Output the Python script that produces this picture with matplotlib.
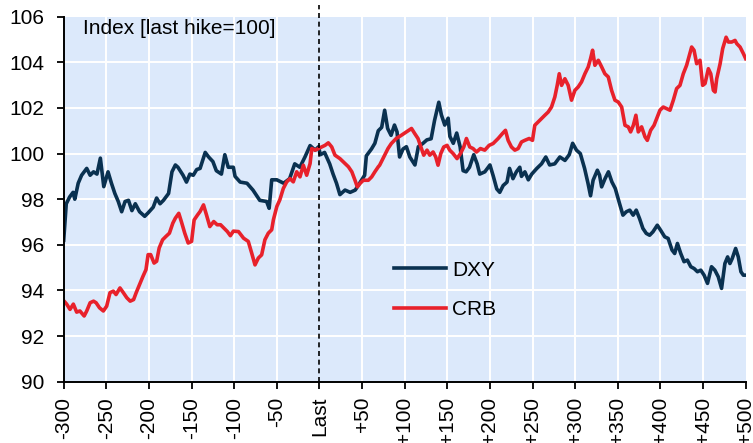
import matplotlib
matplotlib.use('Agg')
import matplotlib.pyplot as plt

plt.rcParams['font.family'] = ['Liberation Sans', 'DejaVu Sans']

# Days relative to last hike, and index values (last hike = 100)
dxy_day = [-300, -297, -293, -289, -287, -283, -279, -273, -269, -265, -261, -257, -253, -248,
           -244, -240, -236, -232, -228, -224, -220, -216, -211, -205, -201, -195, -191, -187,
           -183, -177, -173, -169, -166, -160, -156, -152, -148, -144, -140, -134, -130, -125,
           -121, -115, -111, -107, -101, -99, -93, -85, -78, -70, -62, -59, -56, -50, -42, -35,
           -29, -23, -17, -11, -5, -1, 1, 6, 12, 16, 20, 24, 30, 36, 42, 48, 53, 55, 61, 65,
           69, 73, 76.5, 80, 84, 88, 91, 94, 98, 102, 106, 112, 116, 121.5, 126, 131, 135, 140,
           143, 147, 151, 153, 157, 161, 165, 168.5, 172, 176, 181, 185, 188, 194, 200, 204,
           208, 211.5, 215.5, 220, 223, 227, 231, 235, 237, 241, 245, 249, 255, 260.5, 265.5,
           270, 276, 282, 288, 293, 297, 301.5, 306, 311, 315, 318, 321, 326, 328.6, 331, 335,
           339, 343, 347, 352, 356, 360, 364, 368, 371.6, 375.5, 379.4, 383.4, 387.3, 391.2,
           396.3, 400.2, 405, 409, 413.6, 416.7, 419.9, 423.8, 427.7, 431.6, 435.6, 439.5,
           443.4, 447.3, 451.2, 455.2, 459.9, 463.8, 467.8, 471.7, 475.6, 478.8, 481.5, 484.2,
           488.2, 491.3, 494.4, 497.2, 500]
dxy_value = [96.2, 97.8, 98.1, 98.3, 98.0, 98.7, 99.05, 99.35, 99.05, 99.2, 99.1, 99.8, 98.55, 99.2,
             98.7, 98.25, 97.9, 97.45, 97.9, 97.95, 97.5, 97.8, 97.45, 97.25, 97.4, 97.65, 98.05, 97.8,
             97.95, 98.25, 99.2, 99.5, 99.4, 99.05, 98.75, 99.1, 99.05, 99.3, 99.35, 100.05, 99.85, 99.65,
             99.25, 99.1, 99.95, 99.4, 99.4, 99.0, 98.75, 98.7, 98.4, 97.95, 97.9, 97.6, 98.85, 98.85, 98.7, 98.9,
             99.55, 99.4, 99.85, 100.35, 100.15, 100.3, 99.95, 100.05, 99.55, 99.1, 98.7, 98.2, 98.4, 98.3, 98.4, 98.75, 99.05, 99.9, 100.2, 100.45,
             101.0, 101.15, 101.9, 101.1, 100.8, 101.25, 100.95, 99.85, 100.2, 100.3, 99.85, 99.5, 100.3, 100.45, 100.6, 100.65, 101.45, 102.25,
             101.7, 101.25, 101.55, 100.75, 100.45, 100.9, 100.3, 99.25, 99.2, 99.4, 99.95, 99.55, 99.1, 99.2, 99.5, 99.0,
             98.45, 98.3, 98.6, 98.75, 99.35, 98.9, 99.2, 99.4, 99.0, 99.2, 98.85, 99.1, 99.35, 99.55, 99.85,
             99.5, 99.55, 99.85, 99.7, 99.95, 100.45, 100.15, 100.0, 99.35, 98.7, 98.15, 98.83, 99.27, 99.05, 98.54, 98.9,
             99.2, 98.76, 98.47, 97.81, 97.3, 97.45, 97.52, 97.3, 97.52, 97.15, 96.72, 96.5, 96.42, 96.57,
             96.86, 96.64, 96.35, 96.28, 95.77, 95.62, 96.06, 95.62, 95.26, 95.33, 95.04, 94.96,
             94.82, 94.89, 94.67, 94.31, 95.04, 94.89, 94.6, 94.09, 95.18, 95.47, 95.18, 95.4,
             95.84, 95.47, 94.82, 94.67, 94.67]

crb_day = [-300, -296.5, -292.6, -288.7, -284.8, -281, -276, -273, -269, -265, -262, -258, -253.5,
           -249.6, -245.7, -241.8, -238.6, -234, -230, -226, -222, -218, -215, -211, -207, -203.5,
           -201, -198, -194, -191, -188, -184, -180, -176, -172, -169, -165, -162, -158, -154,
           -150, -147, -143, -140, -136, -132.5, -128.6, -124, -120, -116, -112, -108, -104.5,
           -101, -95, -89, -83.5, -79.5, -75.6, -71.7, -67.8, -64, -60, -56, -54, -50, -46.5,
           -42.4, -38.4, -34.5, -30.7, -26.7, -22.8, -18.9, -15, -11, -9, -5, -1.3, 2.6, 6.5,
           10.4, 14.4, 18.2, 24, 30, 34, 38, 41.7, 44.4, 47.6, 51.4, 57.3, 61.3, 65, 69, 70.6,
           76.5, 80.4, 84.3, 90, 96, 102, 108, 111.7, 115.6, 119.6, 122.3, 126.2, 129.4, 133.3,
           136.4, 139.1, 142.3, 145.8, 149.7, 152.8, 156.8, 161.4, 165.4, 169.3, 172.4, 176.3,
           180.2, 184.2, 188.8, 193.9, 199, 203.7, 209.6, 214.7, 218.2, 221.3, 225.2, 229.2,
           233.1, 237, 240.9, 246, 249.9, 252.6, 256.6, 260.5, 264.4, 268.3, 272.2, 276.1,
           278.9, 281.3, 284, 287.9, 291.8, 295.7, 299.6, 303.5, 307.4, 311.4, 315.3, 318,
           320.4, 323.1, 327.1, 331, 334.8, 338.8, 342.7, 346.6, 350.5, 354.5, 358.4, 362.3,
           365, 368.2, 371.2, 374, 377.9, 381.9, 384.6, 388.5, 392.5, 395.5, 399.4, 403.3,
           407.2, 411.2, 415.1, 419, 422.9, 426.8, 430.7, 433.9, 436.6, 439.4, 442.5, 446.4,
           449.5, 452.3, 456.2, 459, 462.1, 464.1, 466, 470, 473, 477, 479.7, 483.6, 487.5,
           489.5, 493.4, 497.3, 500]
crb_value = [93.55, 93.4, 93.17, 93.4, 93.05, 93.1, 92.88, 93.1, 93.46, 93.53, 93.46, 93.24, 93.1,
             93.31, 93.9, 93.97, 93.82, 94.11, 93.9, 93.68, 93.53, 93.6, 93.9, 94.26, 94.62, 94.91,
             95.57, 95.57, 95.2, 95.28, 95.86, 96.22, 96.37, 96.51, 96.95, 97.17, 97.38, 97.02, 96.51, 96.08,
             96.15, 97.09, 97.31, 97.46, 97.75, 97.31, 96.8, 97.02, 96.88, 96.88, 96.73, 96.58, 96.4,
             96.6, 96.58, 96.29, 96.15, 95.64, 95.12, 95.42, 95.56, 96.22, 96.51, 96.66, 97.1, 97.68, 97.97,
             98.47, 98.76, 98.9, 98.76, 99.2, 98.98, 99.49, 99.05, 99.56, 100.22, 100.15, 100.22, 100.29, 100.36,
             100.47, 100.29, 99.93, 99.78, 99.56, 99.42, 99.2, 98.83, 98.54, 98.69, 98.83, 98.83, 98.98, 99.2, 99.42, 99.49,
             99.93, 100.22, 100.44, 100.66, 100.8, 100.95, 101.1, 100.88, 100.66, 100.22, 99.93, 100.15, 99.93, 100.07,
             99.85, 99.49, 100.0, 100.29, 100.36, 100.15, 100.0, 99.78, 100.0, 100.29, 100.66, 100.29,
             100.22, 100.07, 100.22, 100.15, 100.36, 100.44, 100.66, 100.88, 101.02, 100.58, 100.29, 100.15,
             100.22, 100.51, 100.58, 100.66, 100.58, 101.24, 101.39, 101.53, 101.68, 101.82, 102.04, 102.48,
             102.99, 103.5, 102.99, 103.28, 102.99, 102.34, 102.77, 102.92, 103.14, 103.5, 103.8, 104.16,
             104.53, 103.87, 104.09, 103.8, 103.5, 103.36, 102.77, 102.34, 102.26, 102.04, 101.24, 101.17,
             100.95, 101.24, 101.68, 100.95, 101.17, 100.73, 100.58, 101.02, 101.24, 101.53, 101.9, 102.04,
             101.97, 101.9, 102.34, 102.85, 102.99, 103.5, 103.87, 104.31, 104.67, 104.53, 103.94, 104.09,
             102.99, 103.07, 103.72, 103.5, 102.77, 102.7, 103.28, 103.94, 104.6, 105.1, 104.89, 104.89, 104.96,
             104.82, 104.67, 104.38, 104.16]

x_ticks = list(range(-300, 501, 50))
x_labels = [str(t) if t < 0 else ('Last' if t == 0 else f'+{t}') for t in x_ticks]
y_ticks = list(range(90, 107, 2))

fig = plt.figure(figsize=(7.53, 4.43), dpi=100)
ax = fig.add_axes([0.0846, 0.1384, 0.9057, 0.8239])
ax.set_facecolor('#dce9fb')

for t in x_ticks[1:-1]:
    if t != 0:
        ax.axvline(t, color='white', lw=1.4, zorder=1)
for t in y_ticks[1:-1]:
    ax.axhline(t, color='white', lw=1.4, zorder=1)

ax.plot(dxy_day, dxy_value, color='#0a3150', lw=2.6, label='DXY', zorder=3)
ax.plot(crb_day, crb_value, color='#e8212b', lw=2.6, label='CRB', zorder=4)

ax.axvline(0, ymin=0, ymax=1.032, color='black', lw=1.2, ls=(0, (3, 2.2)), clip_on=False, zorder=5)

ax.set_xlim(-300, 500)
ax.set_ylim(90, 106)
ax.set_xticks(x_ticks)
ax.set_xticklabels(x_labels, rotation=90, fontsize=15)
ax.set_yticks(y_ticks)
ax.set_yticklabels([str(t) for t in y_ticks], fontsize=15)
ax.tick_params(axis='both', direction='out', length=5, width=1.3, color='black')
ax.tick_params(axis='y', pad=9)
ax.tick_params(axis='x', pad=6)

for side in ['top', 'right']:
    ax.spines[side].set_visible(False)
for side in ['left', 'bottom']:
    ax.spines[side].set_linewidth(1.4)
    ax.spines[side].set_zorder(6)

ax.text(0.028, 0.968, 'Index [last hike=100]', transform=ax.transAxes, fontsize=15,
        ha='left', va='center')

ax.legend(loc='center left', bbox_to_anchor=(0.457, 0.251), frameon=False, fontsize=15,
          handlelength=2.5, handletextpad=0.3, labelspacing=1.0)

fig.savefig('out.png', dpi=100)
